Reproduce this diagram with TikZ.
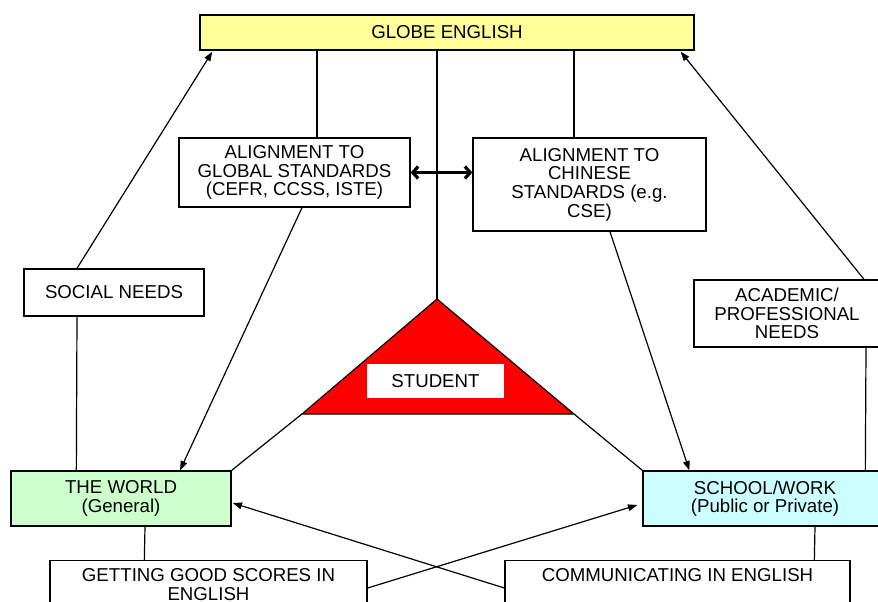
\documentclass[tikz,border=0pt]{standalone}
\usepackage{fontspec}
\setmainfont{Liberation Sans}
\usetikzlibrary{shapes,arrows.meta,calc}
\definecolor{globeyellow}{HTML}{FFFF99}
\definecolor{worldgreen}{HTML}{CCFFCC}
\definecolor{schoolcyan}{HTML}{CCFFFF}
\definecolor{studentred}{HTML}{FF0000}
\tikzset{%
	box/.style      = {draw, line width = 1pt, rectangle, fill = white, align = center, inner sep = 0pt,
	                   font = \fontsize{14}{14}\selectfont}, % Plain box
	goalbox/.style  = {box, anchor = north, inner ysep = 6pt}, % Box cut by the lower edge
	label/.style    = {fill = white, align = center, inner sep = 0pt,
	                   font = \fontsize{14}{14}\selectfont}, % Student label
	twoway/.style   = {{Straight Barb[length = 4pt, width = 9pt]}-{Straight Barb[length = 4pt, width = 9pt]},
	                   line width = 2.4pt} % Double arrow
}

\begin{document}
\begin{tikzpicture}[x = 0.75pt, y = -0.75pt, >={Triangle[length = 7pt, width = 5pt]}, line width = 0.9pt]
	\useasboundingbox (0, 0) rectangle (878, 602);
	\clip (0, 0) rectangle (878, 602);

	% Drawing the student triangle
	\coordinate (apex) at (437, 299);
	\coordinate (tbl) at (302, 414);
	\coordinate (tbr) at (574, 414);
	\filldraw[fill = studentred] (apex) -- (tbl) -- (tbr) -- cycle;

	\draw % Drawing the boxes
	node at (447, 32.5) [box, fill = globeyellow, minimum width = 370.5pt, minimum height = 26.25pt] (globe) {GLOBE ENGLISH}
	node at (294.5, 172.5) [box, minimum width = 173.25pt, minimum height = 51.75pt] (glob) {ALIGNMENT TO\\GLOBAL STANDARDS\\(CEFR, CCSS, ISTE)}
	node at (589.5, 184.5) [box, minimum width = 174.75pt, minimum height = 69.75pt] (chin) {ALIGNMENT TO\\CHINESE\\STANDARDS (e.g.\\CSE)}
	node at (114, 292.5) [box, minimum width = 135pt, minimum height = 35.25pt] (social) {SOCIAL NEEDS}
	node at (787, 313.5) [box, minimum width = 139.5pt, minimum height = 50.25pt] (acad) {ACADEMIC/\\PROFESSIONAL\\NEEDS}
	node at (435.5, 381) [label, minimum width = 102.75pt, minimum height = 25.5pt] (student) {STUDENT}
	node at (121, 498.5) [box, fill = worldgreen, minimum width = 165pt, minimum height = 41.25pt] (world) {THE WORLD\\(General)}
	node at (765, 498.5) [box, fill = schoolcyan, minimum width = 183pt, minimum height = 41.25pt] (school) {SCHOOL/WORK\\(Public or Private)}
	node at (208.5, 560) [goalbox, minimum width = 237.75pt] (getting) {GETTING GOOD SCORES IN\\ENGLISH}
	node at (677.5, 560) [goalbox, minimum width = 258.75pt, text depth = 20pt] (comm) {COMMUNICATING IN ENGLISH}
	;

	% Drawing the links to GLOBE ENGLISH
	\draw (glob.north) ++(22.5, 0) coordinate (g1) -- (g1 |- globe.south);
	\draw (apex) -- (apex |- globe.south);
	\draw (chin.north) ++(-15.5, 0) coordinate (c1) -- (c1 |- globe.south);
	\draw[twoway] (glob.east) -- (chin.west |- glob.east);

	% Drawing the needs
	\draw[->] ($(social.north) + (-37, 0)$) -- ($(globe.south west) + (13, 1)$);
	\draw ($(social.south) + (-37, 0)$) -- ($(world.north west) + (66, 0)$);
	\draw[->] ($(acad.north) + (77, 0)$) -- ($(globe.south east) + (-14, 1)$);
	\draw ($(acad.south) + (79, 0)$) -- ($(school.north west) + (223, 0)$);

	% Drawing the arrows
	\draw[->] ($(glob.south) + (7.5, 0)$) -- ($(world.north) + (59, 0)$);
	\draw[->] ($(chin.south) + (20.5, 0)$) -- ($(school.north west) + (47, 0)$);
	\draw (tbl) -- (world.north east);
	\draw (tbr) -- (school.north west);
	\draw ($(world.south) + (24, 0)$) -- ($(getting.north west) + (95, 0)$);
	\draw ($(school.south) + (50, 0)$) -- ($(comm.north west) + (310, 0)$);
	\draw[->] ($(getting.north east) + (0, 28)$) -- ($(school.west) + (-5, 6.5)$);
	\draw[->] ($(comm.north west) + (0, 28)$) -- ($(world.east) + (1, 4.5)$);
\end{tikzpicture}
\end{document}
